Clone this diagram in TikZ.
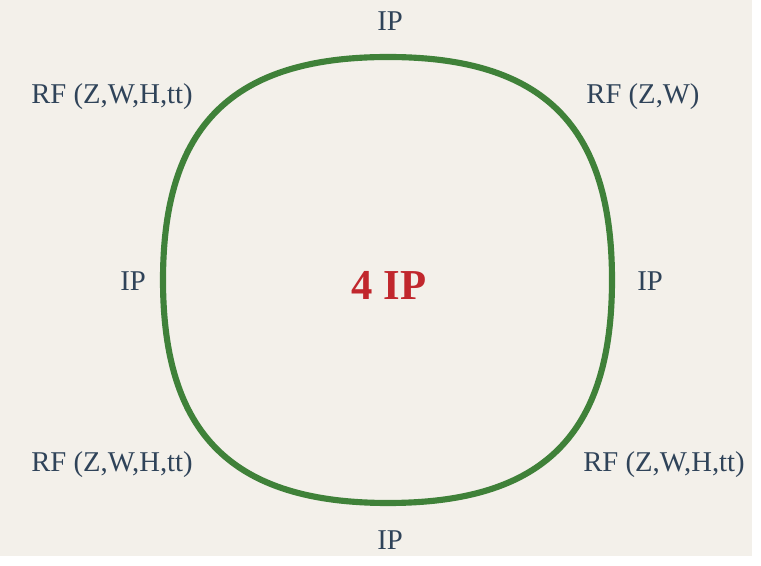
\documentclass[tikz,border=0pt]{standalone}
\usepackage{fontspec}
\setmainfont{Liberation Serif}
\usepackage{tikz}

\definecolor{paper}{HTML}{F3F0EA}
\definecolor{loopgreen}{HTML}{3F8139}
\definecolor{labelblue}{HTML}{2F4359}
\definecolor{countred}{HTML}{C1272D}

\begin{document}
\begin{tikzpicture}[
  x=0.75pt, y=-0.75pt,
  lbl/.style={text=labelblue, font=\fontsize{21.5}{25}\selectfont, inner sep=0pt},
  count/.style={text=countred, font=\fontsize{32}{36}\selectfont\bfseries, inner sep=0pt},
  loop/.style={draw=loopgreen, line width=4.6pt}
]
    \useasboundingbox (0,0) rectangle (761,566);
    \fill[white] (0,0) rectangle (761,566);
    \fill[paper] (0,0) rectangle (752,556);

    % the cycle
    \coordinate (top) at (388,57);
    \coordinate (left) at (163,280);
    \coordinate (bottom) at (388,503);
    \coordinate (right) at (612,280);
    \path [loop] (top) .. controls (232,57) and (163,126) .. (left)
        .. controls (163,434) and (232,503) .. (bottom)
        .. controls (544,503) and (612,434) .. (right)
        .. controls (612,126) and (544,57) .. (top) -- cycle;

    \node [count] (total) at (389,285) {4 IP};

    \node [lbl] (ipTop) at (390,21) {IP};
    \node [lbl] (ipLeft) at (133,281) {IP};
    \node [lbl] (ipRight) at (650,281) {IP};
    \node [lbl] (ipBottom) at (390,540) {IP};

    \node [lbl] (rfTopLeft) at (112,97) {RF (Z,W,H,tt)};
    \node [lbl] (rfTopRight) at (643,97) {RF (Z,W)};
    \node [lbl] (rfBotLeft) at (112,465) {RF (Z,W,H,tt)};
    \node [lbl] (rfBotRight) at (664,465) {RF (Z,W,H,tt)};
\end{tikzpicture}
\end{document}
